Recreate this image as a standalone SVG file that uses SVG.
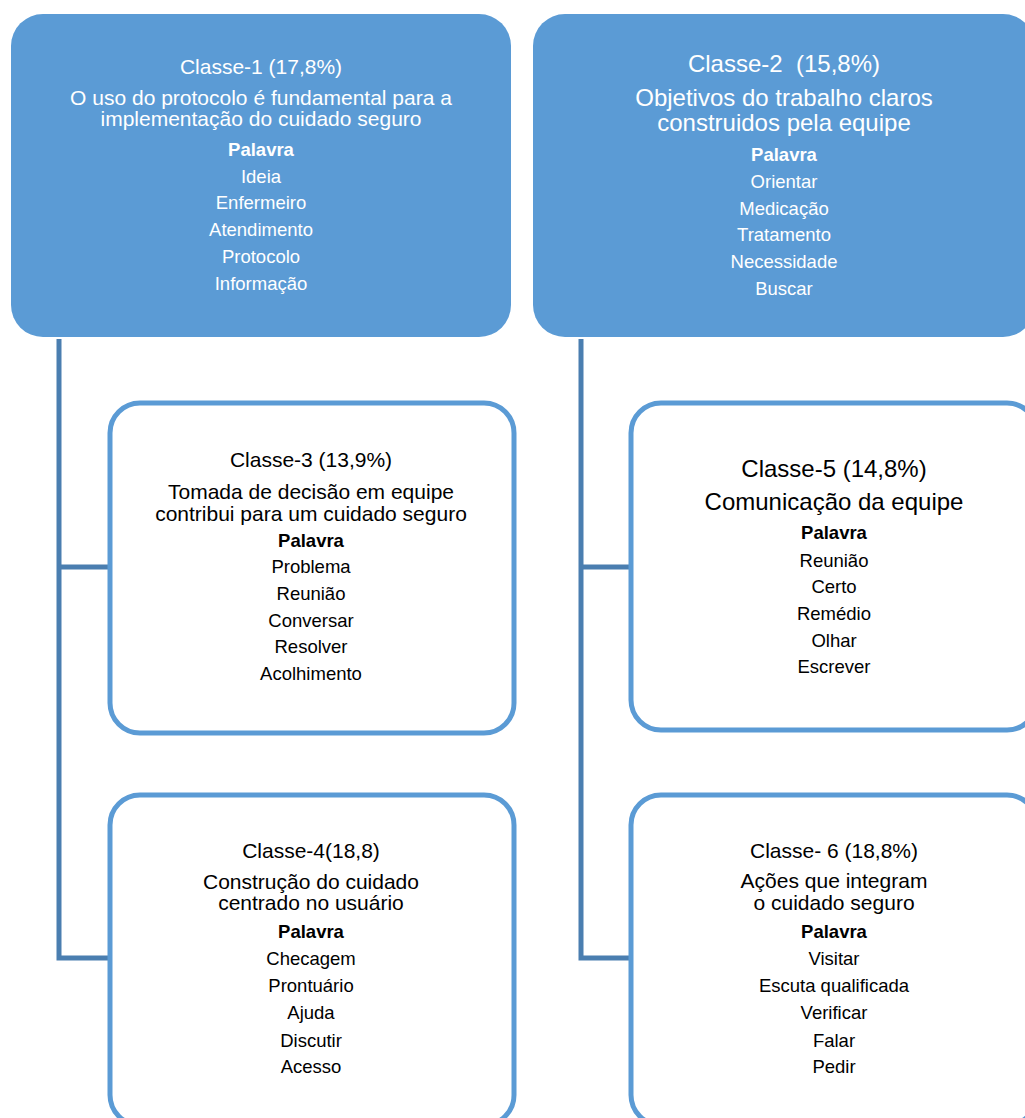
<svg xmlns="http://www.w3.org/2000/svg" width="1025" height="1118" viewBox="0 0 1025 1118">
<style>
text{font-family:"Liberation Sans",Arial,sans-serif;text-anchor:middle}
.solid{fill:#5b9bd5;stroke:none}
.outline{fill:#ffffff;stroke:#5b9bd5;stroke-width:5}
.conn{fill:none;stroke:#4a7eb0;stroke-width:5;stroke-linejoin:miter}
.w{fill:#ffffff}
.k{fill:#000000}
.t21{font-size:21px}
.t24{font-size:24px}
.wd{font-size:18.5px}
.b{font-weight:bold}
</style>
<rect width="1025" height="1118" fill="#ffffff"/>
<g id="connectors">
<path class="conn" d="M59,339 V958 H110 M59,567 H110"/>
<path class="conn" d="M581,339 V958 H631 M581,567 H631"/>
</g>
<g id="classe1">
<rect class="solid" x="11" y="14" width="500" height="323" rx="32" ry="32"/>
<g class="w">
<text class="t21" x="261" y="74">Classe-1 (17,8%)</text>
<text class="t21" x="261" y="105">O uso do protocolo é fundamental para a</text>
<text class="t21" x="261" y="126">implementação do cuidado seguro</text>
<text class="wd b" x="261" y="156">Palavra</text>
<text class="wd" x="261" y="183">Ideia</text>
<text class="wd" x="261" y="209">Enfermeiro</text>
<text class="wd" x="261" y="236">Atendimento</text>
<text class="wd" x="261" y="263">Protocolo</text>
<text class="wd" x="261" y="290">Informação</text>
</g>
</g>
<g id="classe2">
<rect class="solid" x="533" y="14" width="502" height="323" rx="32" ry="32"/>
<g class="w">
<text class="t24" x="784" y="72" xml:space="preserve">Classe-2  (15,8%)</text>
<text class="t24" x="784" y="106">Objetivos do trabalho claros</text>
<text class="t24" x="784" y="131">construidos pela equipe</text>
<text class="wd b" x="784" y="161">Palavra</text>
<text class="wd" x="784" y="188">Orientar</text>
<text class="wd" x="784" y="215">Medicação</text>
<text class="wd" x="784" y="241">Tratamento</text>
<text class="wd" x="784" y="268">Necessidade</text>
<text class="wd" x="784" y="295">Buscar</text>
</g>
</g>
<g id="classe3">
<rect class="outline" x="110" y="403" width="404" height="330" rx="30" ry="30"/>
<g class="k">
<text class="t21" x="311" y="467">Classe-3 (13,9%)</text>
<text class="t21" x="311" y="499">Tomada de decisão em equipe</text>
<text class="t21" x="311" y="521">contribui para um cuidado seguro</text>
<text class="wd b" x="311" y="547">Palavra</text>
<text class="wd" x="311" y="573">Problema</text>
<text class="wd" x="311" y="600">Reunião</text>
<text class="wd" x="311" y="627">Conversar</text>
<text class="wd" x="311" y="653">Resolver</text>
<text class="wd" x="311" y="680">Acolhimento</text>
</g>
</g>
<g id="classe4">
<rect class="outline" x="110" y="795" width="404" height="330" rx="30" ry="30"/>
<g class="k">
<text class="t21" x="311" y="858">Classe-4(18,8)</text>
<text class="t21" x="311" y="889">Construção do cuidado</text>
<text class="t21" x="311" y="910">centrado no usuário</text>
<text class="wd b" x="311" y="938">Palavra</text>
<text class="wd" x="311" y="965">Checagem</text>
<text class="wd" x="311" y="992">Prontuário</text>
<text class="wd" x="311" y="1019">Ajuda</text>
<text class="wd" x="311" y="1047">Discutir</text>
<text class="wd" x="311" y="1073">Acesso</text>
</g>
</g>
<g id="classe5">
<rect class="outline" x="631" y="403" width="406" height="327" rx="30" ry="30"/>
<g class="k">
<text class="t24" x="834" y="477">Classe-5 (14,8%)</text>
<text class="t24" x="834" y="510">Comunicação da equipe</text>
<text class="wd b" x="834" y="539">Palavra</text>
<text class="wd" x="834" y="567">Reunião</text>
<text class="wd" x="834" y="593">Certo</text>
<text class="wd" x="834" y="620">Remédio</text>
<text class="wd" x="834" y="647">Olhar</text>
<text class="wd" x="834" y="673">Escrever</text>
</g>
</g>
<g id="classe6">
<rect class="outline" x="631" y="795" width="406" height="330" rx="30" ry="30"/>
<g class="k">
<text class="t21" x="834" y="858">Classe- 6 (18,8%)</text>
<text class="t21" x="834" y="888">Ações que integram</text>
<text class="t21" x="834" y="910">o cuidado seguro</text>
<text class="wd b" x="834" y="938">Palavra</text>
<text class="wd" x="834" y="965">Visitar</text>
<text class="wd" x="834" y="992">Escuta qualificada</text>
<text class="wd" x="834" y="1019">Verificar</text>
<text class="wd" x="834" y="1047">Falar</text>
<text class="wd" x="834" y="1073">Pedir</text>
</g>
</g>
</svg>
